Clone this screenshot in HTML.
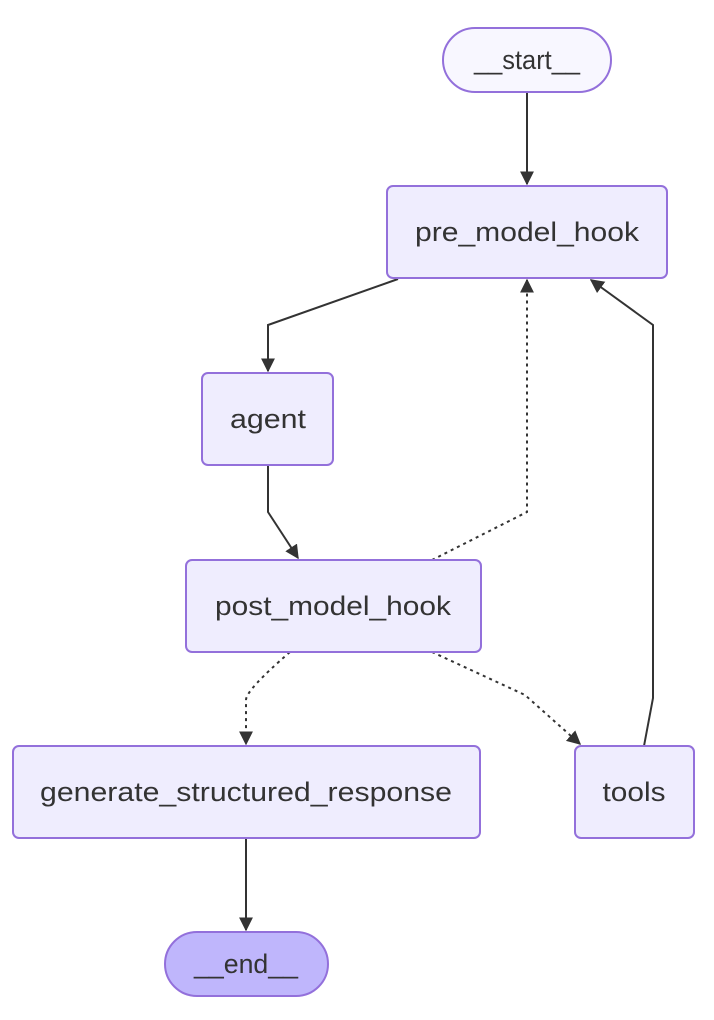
<!DOCTYPE html>
<html><head><meta charset="utf-8"><style>
html,body{margin:0;padding:0;background:#fff;}
svg{display:block;}
text{font-family:"Liberation Sans",sans-serif;font-size:27px;fill:#333;text-anchor:middle;dominant-baseline:central;}
.n{fill:#EFEDFE;stroke:#9370DB;stroke-width:2;}
.e{fill:none;stroke:#333;stroke-width:2;}
.d{fill:none;stroke:#333;stroke-width:2;stroke-dasharray:3 4;}
</style></head><body>
<svg width="714" height="1020" viewBox="0 0 714 1020">
<defs><marker id="b" viewBox="0 0 10 10" refX="9" refY="5" markerWidth="14" markerHeight="14" markerUnits="userSpaceOnUse" orient="auto"><path d="M0,0L10,5L0,10z" fill="#333"/></marker></defs>
<path class="e" d="M527,92 L527,184" marker-end="url(#b)"/>
<path class="e" d="M398,279 L268,325 L268,371" marker-end="url(#b)"/>
<path class="e" d="M268,465 L268,512 L298,558" marker-end="url(#b)"/>
<path class="d" d="M432,560 L527,512 L527,280" marker-end="url(#b)"/>
<path class="d" d="M290,652 Q246,690 246,700 L246,744" marker-end="url(#b)"/>
<path class="d" d="M432,652 L525,695 L580,744" marker-end="url(#b)"/>
<path class="e" d="M644,746 L653,698 L653,325 L591,280" marker-end="url(#b)"/>
<path class="e" d="M246,838 L246,930" marker-end="url(#b)"/>
<rect x="443" y="28" width="168" height="64" rx="32" fill="#F8F7FF" stroke="#9370DB" stroke-width="2"/>
<text x="527" y="60" textLength="106" lengthAdjust="spacingAndGlyphs">__start__</text>
<rect class="n" x="387" y="186" width="280" height="92" rx="6"/>
<text x="527" y="232" textLength="224" lengthAdjust="spacingAndGlyphs">pre_model_hook</text>
<rect class="n" x="202" y="373" width="131" height="92" rx="6"/>
<text x="268" y="419" textLength="76" lengthAdjust="spacingAndGlyphs">agent</text>
<rect class="n" x="186" y="560" width="295" height="92" rx="6"/>
<text x="333" y="606" textLength="236" lengthAdjust="spacingAndGlyphs">post_model_hook</text>
<rect class="n" x="13" y="746" width="467" height="92" rx="6"/>
<text x="246" y="792" textLength="412" lengthAdjust="spacingAndGlyphs">generate_structured_response</text>
<rect class="n" x="575" y="746" width="119" height="92" rx="6"/>
<text x="634" y="792" textLength="63" lengthAdjust="spacingAndGlyphs">tools</text>
<rect x="165" y="932" width="163" height="64" rx="32" fill="#BFB6FC" stroke="#9370DB" stroke-width="2"/>
<text x="246" y="964" textLength="104" lengthAdjust="spacingAndGlyphs">__end__</text>
</svg>
</body></html>
